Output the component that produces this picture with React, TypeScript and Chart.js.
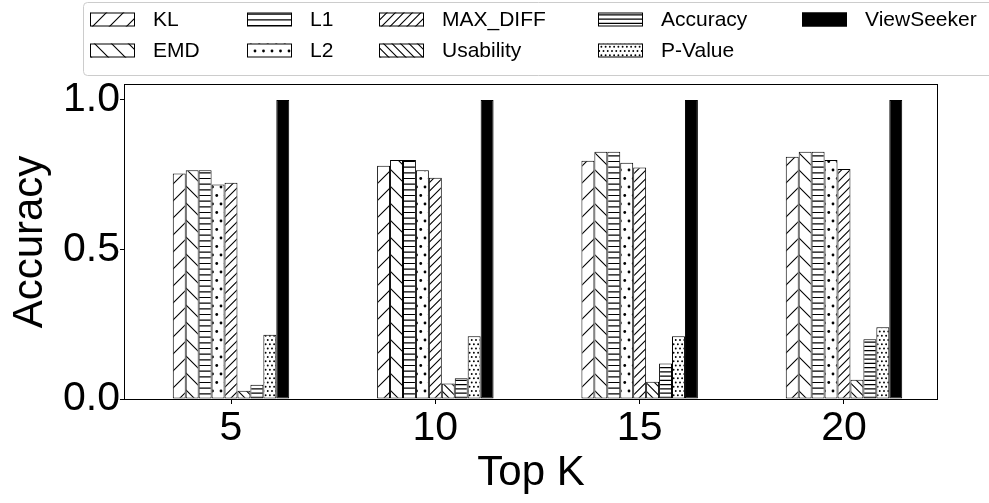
import React, { useEffect, useRef } from 'react';
import { Chart, registerables } from 'chart.js';

Chart.register(...registerables);

// ---------- data ----------
const categories = ['5', '10', '15', '20'];
const seriesNames = ['KL', 'EMD', 'L1', 'L2', 'MAX_DIFF', 'Usability', 'Accuracy', 'P-Value', 'ViewSeeker'];
const klValues = [0.754, 0.780, 0.797, 0.810];
const emdValues = [0.765, 0.799, 0.827, 0.827];
const l1Values = [0.765, 0.799, 0.827, 0.827];
const l2Values = [0.717, 0.765, 0.790, 0.799];
const maxDiffValues = [0.723, 0.740, 0.774, 0.769];
const usabilityValues = [0.028, 0.052, 0.058, 0.064];
const accuracyValues = [0.048, 0.069, 0.119, 0.200];
const pValueValues = [0.215, 0.210, 0.210, 0.240];
const viewSeekerValues = [1.0, 1.0, 1.0, 1.0];
const yTickValues = [0.0, 0.5, 1.0];
const xTitle = 'Top K';
const yTitle = 'Accuracy';

const seriesValues = [
  klValues, emdValues, l1Values, l2Values, maxDiffValues,
  usabilityValues, accuracyValues, pValueValues, viewSeekerValues,
];

// ---------- hatch patterns ----------
type HatchKind = 'diag' | 'anti' | 'horiz' | 'dots' | 'solid';
const hatchSpecs: { kind: HatchKind; n: number; r?: number }[] = [
  { kind: 'diag', n: 1 },
  { kind: 'anti', n: 1 },
  { kind: 'horiz', n: 3 },
  { kind: 'dots', n: 2, r: 1.4 },
  { kind: 'diag', n: 2 },
  { kind: 'anti', n: 2 },
  { kind: 'horiz', n: 4 },
  { kind: 'dots', n: 4, r: 0.95 },
  { kind: 'solid', n: 1 },
];

function makePattern(kind: HatchKind, n: number, r = 1): CanvasPattern | string {
  if (kind === 'solid') return '#000000';
  const T = 17;
  const c = document.createElement('canvas');
  c.width = T;
  c.height = T;
  const g = c.getContext('2d')!;
  g.fillStyle = '#ffffff';
  g.fillRect(0, 0, T, T);
  g.strokeStyle = '#000000';
  g.fillStyle = '#000000';
  g.lineWidth = 1.1;
  const s = T / n;
  if (kind === 'diag' || kind === 'anti') {
    g.beginPath();
    for (let k = -n - 1; k <= n + 1; k++) {
      const c0 = k * s;
      if (kind === 'diag') {
        g.moveTo(c0 - 1, T + 1);
        g.lineTo(c0 + T + 1, -1);
      } else {
        g.moveTo(c0 - 1, -1);
        g.lineTo(c0 + T + 1, T + 1);
      }
    }
    g.stroke();
  } else if (kind === 'horiz') {
    g.beginPath();
    for (let k = 0; k < n; k++) {
      const y = k * s + s / 2;
      g.moveTo(0, y);
      g.lineTo(T, y);
    }
    g.stroke();
  } else if (kind === 'dots') {
    for (let row = 0; row <= n; row++) {
      const y = row * s;
      const xs: number[] = [];
      if (row % 2 === 0) {
        for (let j = 0; j <= n; j++) xs.push(j * s);
      } else {
        for (let j = 0; j < n; j++) xs.push((j + 0.5) * s);
      }
      xs.forEach((x) => {
        g.beginPath();
        g.arc(x, y, r, 0, Math.PI * 2);
        g.fill();
      });
    }
  }
  const p = g.createPattern(c, 'repeat');
  return p || '#ffffff';
}

const FONT = '"Liberation Sans", Arial, Helvetica, sans-serif';

// ---------- plugins ----------
const framePlugin = {
  id: 'frame',
  afterDatasetsDraw(chart: any) {
    const { ctx, chartArea } = chart;
    ctx.save();
    ctx.strokeStyle = '#000000';
    ctx.lineWidth = 1;
    ctx.strokeRect(chartArea.left - 0.5, chartArea.top - 0.5, chartArea.right - chartArea.left + 1, chartArea.bottom - chartArea.top + 1);
    ctx.restore();
  },
};

function roundRectPath(ctx: CanvasRenderingContext2D, x: number, y: number, w: number, h: number, r: number) {
  ctx.beginPath();
  ctx.moveTo(x + r, y);
  ctx.lineTo(x + w - r, y);
  ctx.quadraticCurveTo(x + w, y, x + w, y + r);
  ctx.lineTo(x + w, y + h - r);
  ctx.quadraticCurveTo(x + w, y + h, x + w - r, y + h);
  ctx.lineTo(x + r, y + h);
  ctx.quadraticCurveTo(x, y + h, x, y + h - r);
  ctx.lineTo(x, y + r);
  ctx.quadraticCurveTo(x, y, x + r, y);
  ctx.closePath();
}

const legendPlugin = {
  id: 'gridLegend',
  afterDraw(chart: any) {
    const ctx: CanvasRenderingContext2D = chart.ctx;
    ctx.save();
    ctx.fillStyle = 'rgba(255,255,255,0.8)';
    ctx.strokeStyle = '#cccccc';
    ctx.lineWidth = 1;
    roundRectPath(ctx, 83.5, 2.5, 930, 73, 4);
    ctx.fill();
    ctx.stroke();
    const colX = [90, 247, 379, 598, 802];
    const rowY = [19.5, 50.5];
    chart.data.datasets.forEach((ds: any, i: number) => {
      const col = Math.floor(i / 2);
      const row = i % 2;
      const x = colX[col];
      const y = rowY[row];
      ctx.fillStyle = ds.backgroundColor;
      ctx.fillRect(x, y - 7, 45, 14);
      ctx.strokeStyle = '#000000';
      ctx.lineWidth = 1;
      ctx.strokeRect(x + 0.5, y - 6.5, 44, 13);
      ctx.fillStyle = '#000000';
      ctx.font = `21px ${FONT}`;
      ctx.textBaseline = 'middle';
      ctx.textAlign = 'left';
      ctx.fillText(ds.label, x + 63, y + 1);
    });
    ctx.restore();
  },
};

export default function App() {
  const ref = useRef<HTMLCanvasElement>(null);

  useEffect(() => {
    const canvas = ref.current;
    if (!canvas) return;
    const patterns = hatchSpecs.map((h) => makePattern(h.kind, h.n, h.r));
    const datasets = seriesNames.map((name, i) => ({
      label: name,
      data: categories.map((c, j) => ({ x: Number(c), y: seriesValues[i][j] })),
      backgroundColor: patterns[i] as any,
      borderColor: '#000000',
      borderWidth: 1,
      borderSkipped: false as any,
      categoryPercentage: 0.57,
      barPercentage: 1.0,
    }));

    const chart = new Chart(canvas, {
      type: 'bar',
      data: { datasets },
      options: {
        responsive: false,
        animation: false,
        devicePixelRatio: 1,
        layout: { padding: { top: 85, right: 52, left: 0, bottom: 0 } },
        plugins: {
          legend: { display: false },
          tooltip: { enabled: false },
        },
        scales: {
          x: {
            type: 'linear',
            min: 2.406,
            max: 22.276,
            offset: false,
            afterBuildTicks: (s: any) => {
              s.ticks = categories.map((c) => ({ value: Number(c) }));
            },
            afterFit: (s: any) => {
              s.height = 104;
            },
            ticks: {
              autoSkip: false,
              maxRotation: 0,
              padding: 0,
              color: '#000000',
              font: { family: FONT, size: 41 },
              callback: (_v: any, idx: number) => categories[idx],
            },
            grid: {
              display: true,
              drawOnChartArea: false,
              drawTicks: true,
              tickLength: 5,
              color: '#000000',
              offset: false,
            },
            border: { display: false },
            title: {
              display: true,
              text: xTitle,
              color: '#000000',
              font: { family: FONT, size: 42 },
              padding: { top: 0, bottom: 4 },
            },
          },
          y: {
            type: 'linear',
            min: 0,
            max: 1.05,
            afterBuildTicks: (s: any) => {
              s.ticks = yTickValues.map((v) => ({ value: v }));
            },
            afterFit: (s: any) => {
              s.width = 125;
            },
            ticks: {
              padding: 0,
              color: '#000000',
              font: { family: FONT, size: 41 },
              callback: (v: any) => Number(v).toFixed(1),
            },
            grid: {
              display: true,
              drawOnChartArea: false,
              drawTicks: true,
              tickLength: 5,
              color: '#000000',
            },
            border: { display: false },
            title: {
              display: true,
              text: yTitle,
              color: '#000000',
              font: { family: FONT, size: 42 },
              padding: { top: 5, bottom: 0 },
            },
          },
        },
      },
      plugins: [framePlugin, legendPlugin],
    } as any);

    return () => chart.destroy();
  }, []);

  return (
    <div style={{ position: 'absolute', left: 0, top: 0, width: 989, height: 503, background: '#ffffff' }}>
      <canvas ref={ref} width={989} height={503} style={{ display: 'block', width: 989, height: 503 }} />
    </div>
  );
}
